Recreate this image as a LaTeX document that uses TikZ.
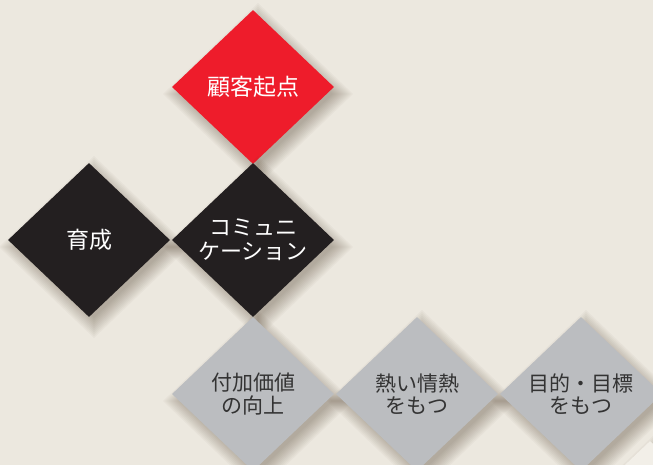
\documentclass[tikz,border=0pt]{standalone}
\usepackage{fontspec}
\setmainfont{Noto Sans CJK JP}
\usetikzlibrary{shapes.geometric}
\definecolor{bg}{HTML}{ECE8DF}
\definecolor{dred}{HTML}{EE1C2B}
\definecolor{dblack}{HTML}{231F20}
\definecolor{dgray}{HTML}{BBBDC0}
\definecolor{dtext}{HTML}{333333}
\definecolor{dlight}{HTML}{F2EFE8}
\newcommand\diashadow[2]{%
  \foreach \r in {-6,-4,...,14}{%
    \fill[black!70!brown, opacity=0.032]
      (#1+5,#2-7+77+\r) -- (#1+5+81+\r,#2-7) -- (#1+5,#2-7-77-\r) -- (#1+5-81-\r,#2-7) -- cycle;}}
\begin{document}
\begin{tikzpicture}[x=1pt,y=1pt,
  dia/.style={shape=diamond, minimum width=162pt, minimum height=154pt,
    inner sep=0pt, aspect=1.06, align=center},
  reddia/.style={dia, fill=dred, text=white, font=\fontsize{23}{26}\selectfont},
  blackdia/.style={dia, fill=dblack, text=white, font=\fontsize{23}{24}\selectfont},
  graydia/.style={dia, fill=dgray, text=dtext, font=\fontsize{21}{22.5}\selectfont},
  lightdia/.style={dia, fill=dlight}
]
\fill[bg] (0,0) rectangle (653,465);
\useasboundingbox (0,0) rectangle (653,465);
\begin{scope}
\clip (0,0) rectangle (653,465);
\diashadow{650}{-53}
\node[lightdia] (extra) at (650,-53) {};
\diashadow{253}{378}
\node[reddia] (kokyaku) at (253,378) {顧客起点};
\diashadow{89}{225}
\diashadow{253}{225}
\node[blackdia] (ikusei) at (89,225) {育成};
\node[blackdia, font=\fontsize{22}{24}\selectfont] (comm) at (253,225) {コミュニ\\ケーション};
\diashadow{253}{71}
\diashadow{417}{71}
\diashadow{581}{71}
\node[graydia] (fuka) at (253,71) {付加価値\\の向上};
\node[graydia] (atsui) at (417,71) {熱い情熱\\をもつ};
\node[graydia] (mokuteki) at (581,71) {目的・目標\\をもつ};
\end{scope}
\end{tikzpicture}
\end{document}
